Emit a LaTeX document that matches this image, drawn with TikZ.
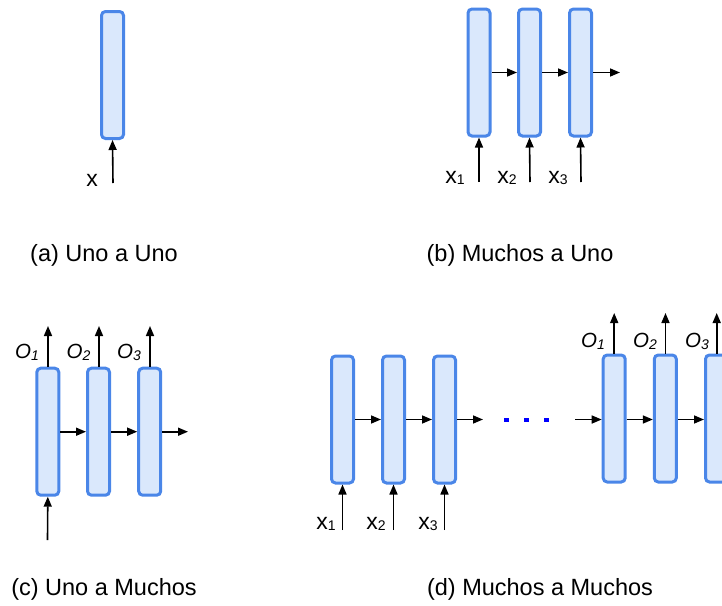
\documentclass[tikz,border=0pt]{standalone}
\usepackage{fontspec}
\setmainfont{Liberation Sans}
\usetikzlibrary{arrows.meta}
\definecolor{cellline}{HTML}{4A86E8}
\definecolor{cellfill}{HTML}{DAE8FC}
\tikzset{
  cell/.style={draw=cellline, fill=cellfill, line width=3pt, rounded corners=4pt,
    minimum width=22pt, minimum height=127pt, inner sep=0pt},
  flow/.style={line width=1.6pt, -{Triangle[length=10pt,width=8pt]}},
  caption/.style={font=\fontsize{23.5}{27}\selectfont, inner sep=0pt},
  inlabel/.style={font=\fontsize{23}{26}\selectfont, inner sep=0pt},
  outlabel/.style={font=\fontsize{20.5}{24}\selectfont\itshape, inner sep=0pt},
  dotmark/.style={fill=blue, minimum size=4.5pt, inner sep=0pt}
}
\newcommand{\xin}[1]{x\raisebox{-0.1ex}{\fontsize{14}{14}\selectfont #1}}
\newcommand{\oout}[1]{O\raisebox{-0.2ex}{\fontsize{14}{14}\selectfont #1}}
\begin{document}
\begin{tikzpicture}[x=1pt,y=-1pt]
\useasboundingbox (0,0) rectangle (722,605);
\clip (0,0) rectangle (722,605);

% (a) one to one
\node[cell] (a1) at (112.5,75) {};
\coordinate (ain) at (113,183);
\draw[flow] (ain) -- (a1.south);
\node[inlabel] (ax) at (92,180) {x};
\node[caption] (acap) at (104,255) {(a) Uno a Uno};

% (b) many to one
\node[cell] (b1) at (479,72.5) {};
\node[cell] (b2) at (529.5,72.5) {};
\node[cell] (b3) at (580.5,72.5) {};
\coordinate (bout) at (620,72.5);
\draw[flow] (b1.east) -- (b2.west);
\draw[flow] (b2.east) -- (b3.west);
\draw[flow] (b3.east) -- (bout);
\coordinate (bin1) at (479,182);
\coordinate (bin2) at (530,182);
\coordinate (bin3) at (581,182);
\draw[flow] (bin1) -- (b1.south);
\draw[flow] (bin2) -- (b2.south);
\draw[flow] (bin3) -- (b3.south);
\node[inlabel] (bx1) at (455,178) {\xin{1}};
\node[inlabel] (bx2) at (507,178) {\xin{2}};
\node[inlabel] (bx3) at (558,178) {\xin{3}};
\node[caption] (bcap) at (520,255) {(b) Muchos a Uno};

% (c) one to many
\node[cell] (c1) at (47.8,431.7) {};
\node[cell] (c2) at (98.5,431.7) {};
\node[cell] (c3) at (149.7,431.7) {};
\coordinate (cout) at (188,431.7);
\draw[flow] (c1.east) -- (c2.west);
\draw[flow] (c2.east) -- (c3.west);
\draw[flow] (c3.east) -- (cout);
\coordinate (co1) at (48,326);
\coordinate (co2) at (99,326);
\coordinate (co3) at (150,326);
\draw[flow] (c1.north -| co1) -- (co1);
\draw[flow] (c2.north -| co2) -- (co2);
\draw[flow] (c3.north -| co3) -- (co3);
\node[outlabel] (cl1) at (27,352) {\oout{1}};
\node[outlabel] (cl2) at (78.5,352) {\oout{2}};
\node[outlabel] (cl3) at (129,352) {\oout{3}};
\coordinate (cin) at (47.5,540);
\draw[flow] (cin) -- (c1.south);
\node[caption] (ccap) at (104,589) {(c) Uno a Muchos};

% (d) many to many
\node[cell] (d1) at (342.5,419.5) {};
\node[cell] (d2) at (393.5,419.5) {};
\node[cell] (d3) at (444.5,419.5) {};
\coordinate (dmid) at (483,419.5);
\draw[flow] (d1.east) -- (d2.west);
\draw[flow] (d2.east) -- (d3.west);
\draw[flow] (d3.east) -- (dmid);
\node[dotmark] (dot1) at (506.7,420) {};
\node[dotmark] (dot2) at (526.7,420) {};
\node[dotmark] (dot3) at (546.7,420) {};
\coordinate (dresume) at (575,419.5);
\node[cell] (d4) at (614.2,418.5) {};
\node[cell] (d5) at (665.3,418.5) {};
\node[cell] (d6) at (716.5,418.5) {};
\draw[flow] (dresume) -- (d4.west |- dresume);
\draw[flow] (d4.east |- dresume) -- (d5.west |- dresume);
\draw[flow] (d5.east |- dresume) -- (d6.west |- dresume);
\coordinate (din1) at (342.5,530);
\coordinate (din2) at (393.5,530);
\coordinate (din3) at (444.5,530);
\draw[flow] (din1) -- (d1.south);
\draw[flow] (din2) -- (d2.south);
\draw[flow] (din3) -- (d3.south);
\node[inlabel] (dx1) at (326,524) {\xin{1}};
\node[inlabel] (dx2) at (376,524) {\xin{2}};
\node[inlabel] (dx3) at (428,524) {\xin{3}};
\coordinate (do1) at (614.2,313);
\coordinate (do2) at (665.5,313);
\coordinate (do3) at (716.7,313);
\draw[flow] (d4.north -| do1) -- (do1);
\draw[flow] (d5.north -| do2) -- (do2);
\draw[flow] (d6.north -| do3) -- (do3);
\node[outlabel] (dl1) at (593,341) {\oout{1}};
\node[outlabel] (dl2) at (645,341) {\oout{2}};
\node[outlabel] (dl3) at (697,341) {\oout{3}};
\node[caption] (dcap) at (540,589) {(d) Muchos a Muchos};
\end{tikzpicture}
\end{document}
